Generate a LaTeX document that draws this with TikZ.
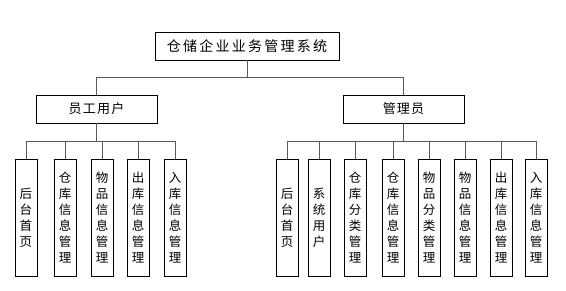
\documentclass[tikz,border=0pt]{standalone}
\usepackage{fontspec}
\newfontfamily\cjk{Noto Sans CJK SC}
\begin{document}
\begin{tikzpicture}[x=1pt, y=-1pt,
    box/.style={draw, line width=0.9pt, inner sep=0pt, fill=white},
    leaf/.style={box, minimum width=22pt, minimum height=117pt, align=center,
      font=\cjk\fontsize{12.5}{16}\selectfont},
    conn/.style={draw=black!65, line width=1pt}]
    \useasboundingbox (0,0) rectangle (566,290);
    % Top box
    \node[box, minimum width=184pt, minimum height=28pt,
      font=\cjk\fontsize{14}{16}\selectfont\addfontfeature{LetterSpace=16}] (sys) at (247,46) {仓储企业业务管理系统};
    % Two user roles
    \node[box, minimum width=121pt, minimum height=28pt,
      font=\cjk\fontsize{13}{16}\selectfont\addfontfeature{LetterSpace=10}] (emp) at (96.5,109) {员工用户};
    \node[box, minimum width=121pt, minimum height=28pt,
      font=\cjk\fontsize{13}{16}\selectfont\addfontfeature{LetterSpace=8}] (adm) at (403.5,109) {管理员};
    \path (sys.south) ++(0,17) coordinate (busT);
    \draw[conn] (sys.south) -- (busT);
    \draw[conn] (busT) -| (emp.north);
    \draw[conn] (busT) -| (adm.north);
    % Employee functions
    \foreach \i/\x/\t in {1/26/{后\\台\\首\\页}, 2/65/{仓\\库\\信\\息\\管\\理},
        3/102/{物\\品\\信\\息\\管\\理}, 4/138/{出\\库\\信\\息\\管\\理},
        5/175/{入\\库\\信\\息\\管\\理}}
      \node[leaf] (l\i) at (\x,217.5) {\t};
    \path (emp.south) ++(0,18) coordinate (busL);
    \draw[conn] (emp.south) -- (busL);
    \foreach \i in {1,...,5}
      \draw[conn] (busL) -| (l\i.north);
    % Administrator functions
    \foreach \i/\x/\t in {1/287/{后\\台\\首\\页}, 2/319/{系\\统\\用\\户},
        3/355/{仓\\库\\分\\类\\管\\理}, 4/393/{仓\\库\\信\\息\\管\\理},
        5/429/{物\\品\\分\\类\\管\\理}, 6/465/{物\\品\\信\\息\\管\\理},
        7/501/{出\\库\\信\\息\\管\\理}, 8/536/{入\\库\\信\\息\\管\\理}}
      \node[leaf] (r\i) at (\x,217.5) {\t};
    \path (adm.south) ++(0,18) coordinate (busR);
    \draw[conn] (adm.south) -- (busR);
    \foreach \i in {1,...,8}
      \draw[conn] (busR) -| (r\i.north);
\end{tikzpicture}
\end{document}
